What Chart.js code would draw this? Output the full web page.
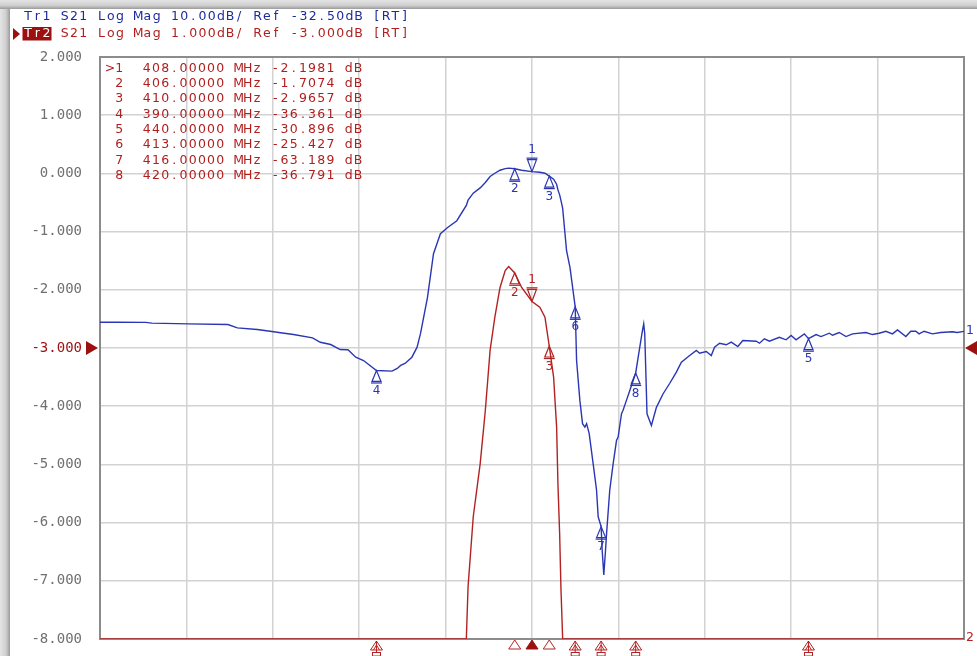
<!DOCTYPE html>
<html><head><meta charset="utf-8">
<style>html,body{margin:0;padding:0;background:#fff;overflow:hidden}</style>
<script src="https://cdn.jsdelivr.net/npm/chart.js@4.4.0/dist/chart.umd.min.js"></script>
</head><body>
<canvas id="c" width="977" height="656" style="width:977px;height:656px;display:block"></canvas>
<script>
// Stimulus axis (MHz) and measured S21 (dB) — same data shown by Tr1 and Tr2
const freqMHz = [358.0,360.0,363.3,364.0,368.2,372.8,373.9,376.2,377.7,378.9,380.4,382.6,383.5,384.7,385.8,386.7,387.6,388.5,390.0,391.8,392.4,392.8,393.3,394.1,394.7,395.1,395.9,396.6,397.4,398.2,399.3,400.4,400.6,401.2,402.0,402.6,403.15,403.7,404.3,404.9,405.3,406.0,406.8,408.0,408.9,409.5,410.0,410.5,410.85,411.0,411.2,411.35,411.55,412.0,412.4,412.8,413.0,413.16,413.54,413.85,414.12,414.32,414.62,415.08,415.47,415.66,416.0,416.12,416.31,416.51,416.63,417.0,417.39,417.78,417.97,418.36,418.54,418.93,419.32,420.0,420.47,420.78,420.93,421.05,421.16,421.31,421.82,422.4,423.16,423.93,424.71,425.29,426.25,427.02,427.4,428.17,428.75,429.13,429.71,430.48,431.06,431.82,432.4,433.95,434.33,434.9,435.48,436.63,437.41,437.99,438.56,439.52,440.0,440.88,441.45,442.41,442.79,443.56,444.34,445.1,446.65,447.41,448.18,448.96,449.72,450.3,451.27,451.84,452.42,452.8,453.38,454.34,455.31,456.65,457.22,458.0];
const s21dB = [-28.08,-28.08,-28.10,-28.22,-28.35,-28.47,-29.04,-29.33,-29.62,-29.89,-30.18,-30.75,-31.51,-31.90,-32.76,-32.81,-34.08,-34.65,-36.36,-36.48,-36.02,-35.50,-35.16,-34.08,-32.36,-30.00,-23.84,-16.29,-12.86,-11.83,-10.63,-8.00,-7.10,-5.90,-4.99,-4.07,-3.04,-2.47,-1.96,-1.67,-1.60,-1.71,-1.96,-2.20,-2.30,-2.47,-2.97,-3.50,-4.36,-5.33,-6.19,-7.13,-8.50,-15.78,-18.69,-23.20,-25.43,-34.65,-41.50,-45.50,-46.10,-45.50,-47.20,-52.40,-56.90,-61.50,-63.19,-67.20,-71.50,-67.20,-64.40,-56.90,-52.40,-48.40,-47.80,-43.80,-43.20,-41.50,-39.80,-36.79,-32.40,-29.50,-28.35,-30.07,-35.80,-43.80,-45.80,-42.70,-40.40,-38.60,-36.65,-34.94,-33.79,-32.93,-33.39,-33.10,-33.79,-32.36,-31.68,-31.95,-31.50,-32.24,-31.21,-31.33,-31.68,-30.92,-31.33,-30.65,-31.09,-30.36,-31.09,-30.07,-30.90,-30.19,-30.53,-29.96,-30.31,-29.84,-30.53,-30.07,-29.84,-30.19,-29.96,-29.62,-30.07,-29.38,-30.53,-29.62,-29.62,-30.07,-29.62,-30.07,-29.84,-29.72,-29.84,-29.65];

// Markers
const markerIds = ['1','2','3','4','5','6','7','8'];
const markerFreqs = [408,406,410,390,440,413,416,420];
const markerValues = [-2.1981,-1.7074,-2.9657,-36.361,-30.896,-25.427,-63.189,-36.791];

// Graticule / axis
const yTickValues = [2,1,0,-1,-2,-3,-4,-5,-6,-7,-8];
const xRange = [358, 458];
const refPosition = -3;           // reference line position (graticule units)
const tr1Ref = -32.5, tr1PerDiv = 10;
const tr2Ref = -3.0,  tr2PerDiv = 1;

const headerTr1 = 'Tr1 S21 Log Mag 10.00dB/ Ref -32.50dB [RT]';
const headerTr2Label = 'Tr2';
const headerTr2 = 'S21 Log Mag 1.000dB/ Ref -3.000dB [RT]';

const BLUE = '#2a36b4', RED = '#b32222', DARKRED = '#9c1010', TXTBLUE = '#1f2a9e', TXTRED = '#b01e1e';
const FONT = '12.5px "DejaVu Sans"';
const PITCH = 9.18;

const yMin = yTickValues[yTickValues.length-1], yMax = yTickValues[0];
const tr1Min = tr1Ref + (yMin - refPosition) * tr1PerDiv;
const tr1Max = tr1Ref + (yMax - refPosition) * tr1PerDiv;
const tr2Min = tr2Ref + (yMin - refPosition) * tr2PerDiv;
const tr2Max = tr2Ref + (yMax - refPosition) * tr2PerDiv;

function mono(ctx, s, x, y, pitch) {
  ctx.textAlign = 'center';
  for (let i = 0; i < s.length; i++) ctx.fillText(s[i], x + i * pitch + pitch / 2, y);
}

function markerBelow(ctx, x, y, color, label) { // triangle under the point, apex at point
  ctx.strokeStyle = color; ctx.fillStyle = color; ctx.lineWidth = 1.2;
  ctx.beginPath(); ctx.moveTo(x, y); ctx.lineTo(x - 4.5, y + 11); ctx.lineTo(x + 4.5, y + 11); ctx.closePath(); ctx.stroke();
  ctx.beginPath(); ctx.moveTo(x - 5.5, y + 12.5); ctx.lineTo(x + 5.5, y + 12.5); ctx.stroke();
  ctx.textAlign = 'center'; ctx.textBaseline = 'middle'; ctx.fillText(label, x, y + 20.5);
}
function markerAbove(ctx, x, y, color, label) {
  ctx.strokeStyle = color; ctx.fillStyle = color; ctx.lineWidth = 1.2;
  ctx.beginPath(); ctx.moveTo(x, y); ctx.lineTo(x - 4.5, y - 12); ctx.lineTo(x + 4.5, y - 12); ctx.closePath(); ctx.stroke();
  ctx.beginPath(); ctx.moveTo(x - 5.5, y - 13.5); ctx.lineTo(x + 5.5, y - 13.5); ctx.stroke();
  ctx.textAlign = 'center'; ctx.textBaseline = 'middle'; ctx.fillText(label, x, y - 21.5);
}
function offScaleArrow(ctx, x, y, color) {
  ctx.strokeStyle = color; ctx.lineWidth = 1;
  ctx.beginPath(); ctx.moveTo(x - 6, y + 11); ctx.lineTo(x, y + 2); ctx.lineTo(x + 6, y + 11); ctx.closePath(); ctx.stroke();
  ctx.beginPath(); ctx.moveTo(x - 3, y + 11); ctx.lineTo(x, y + 6); ctx.lineTo(x + 3, y + 11); ctx.stroke();
  ctx.beginPath(); ctx.moveTo(x, y + 2); ctx.lineTo(x, y + 14); ctx.stroke();
  ctx.strokeRect(x - 4, y + 13.5, 8, 3.5);
}
function bottomTri(ctx, x, y, color, filled) {
  ctx.strokeStyle = color; ctx.fillStyle = color; ctx.lineWidth = 1;
  ctx.beginPath(); ctx.moveTo(x, y + 1); ctx.lineTo(x - 6, y + 10); ctx.lineTo(x + 6, y + 10); ctx.closePath();
  if (filled) ctx.fill(); ctx.stroke();
}

const vnaPlugin = {
  id: 'vna',
  beforeDraw(chart) {
    const ctx = chart.ctx; const W = chart.width, H = chart.height;
    ctx.save();
    ctx.fillStyle = '#fff'; ctx.fillRect(0, 0, W, H);
    let g = ctx.createLinearGradient(0, 0, 0, 9);
    g.addColorStop(0, '#e4e4e4'); g.addColorStop(0.6, '#cfcfcf'); g.addColorStop(1, '#9a9a9a');
    ctx.fillStyle = g; ctx.fillRect(0, 0, W, 9);
    g = ctx.createLinearGradient(0, 0, 10, 0);
    g.addColorStop(0, '#e4e4e4'); g.addColorStop(0.6, '#cfcfcf'); g.addColorStop(1, '#9a9a9a');
    ctx.fillStyle = g; ctx.fillRect(0, 9, 10, H - 9);
    ctx.restore();
  },
  beforeDatasetsDraw(chart) {
    const ctx = chart.ctx, a = chart.chartArea;
    ctx.save();
    ctx.strokeStyle = '#8c8c8c'; ctx.lineWidth = 2;
    ctx.strokeRect(a.left, a.top, a.right - a.left, a.bottom - a.top);
    ctx.restore();
  },
  afterDatasetsDraw(chart) {
    const ctx = chart.ctx, a = chart.chartArea;
    const xs = chart.scales.x, ys = chart.scales.y, y2 = chart.scales.y2;
    ctx.save();
    ctx.font = FONT;
    // header
    ctx.textBaseline = 'middle';
    ctx.fillStyle = TXTBLUE; mono(ctx, headerTr1, 23.5, 16.5, PITCH);
    ctx.fillStyle = DARKRED;
    ctx.beginPath(); ctx.moveTo(13, 28); ctx.lineTo(20, 34); ctx.lineTo(13, 40); ctx.closePath(); ctx.fill();
    ctx.fillRect(22.5, 27, 29, 13.5);
    ctx.fillStyle = '#fff'; mono(ctx, headerTr2Label, 23.5, 33.8, PITCH);
    ctx.fillStyle = TXTRED; mono(ctx, headerTr2, 23.5 + 4 * PITCH, 33.8, PITCH);
    // marker table
    ctx.fillStyle = TXTRED;
    for (let i = 0; i < markerIds.length; i++) {
      const row = (i === 0 ? '>' : ' ') + markerIds[i] + '  ' + markerFreqs[i].toFixed(5) + ' MHz ' +
        markerValues[i].toPrecision(5) + ' dB';
      mono(ctx, row, 105.5, 68.5 + i * 15.3, PITCH);
    }
    // reference level triangles
    const yr = ys.getPixelForValue(refPosition);
    ctx.fillStyle = DARKRED;
    ctx.beginPath(); ctx.moveTo(86, yr - 7); ctx.lineTo(98, yr); ctx.lineTo(86, yr + 7); ctx.closePath(); ctx.fill();
    ctx.beginPath(); ctx.moveTo(977, yr - 7); ctx.lineTo(965, yr); ctx.lineTo(977, yr + 7); ctx.closePath(); ctx.fill();
    // trace end labels
    ctx.textBaseline = 'middle'; ctx.textAlign = 'left';
    ctx.fillStyle = BLUE; ctx.fillText('1', a.right + 2, y2.getPixelForValue(s21dB[s21dB.length - 1]) - 1);
    ctx.fillStyle = RED; ctx.fillText('2', a.right + 2, a.bottom - 1);
    // markers
    ctx.font = '12px "DejaVu Sans"';
    for (let i = 0; i < markerIds.length; i++) {
      const px = xs.getPixelForValue(markerFreqs[i]);
      const v = markerValues[i];
      // Tr1 (blue)
      const pyb = y2.getPixelForValue(v);
      if (i === 0) markerAbove(ctx, px, pyb, BLUE, markerIds[i]); else markerBelow(ctx, px, pyb, BLUE, markerIds[i]);
      // Tr2 (red)
      if (v >= tr2Min && v <= tr2Max) {
        const pyr = ys.getPixelForValue(v);
        if (i === 0) markerAbove(ctx, px, pyr, RED, markerIds[i]); else markerBelow(ctx, px, pyr, RED, markerIds[i]);
        bottomTri(ctx, px, a.bottom, i === 0 ? DARKRED : RED, i === 0);
      } else {
        offScaleArrow(ctx, px, a.bottom, RED);
      }
    }
    ctx.restore();
  }
};

new Chart(document.getElementById('c'), {
  type: 'line',
  data: {
    datasets: [
      {
        label: 'Tr2 S21',
        data: freqMHz.map((f, i) => ({ x: f, y: Math.max(tr2Min, Math.min(tr2Max, s21dB[i])) })),
        yAxisID: 'y', borderColor: RED, borderWidth: 1.4, pointRadius: 0, tension: 0
      },
      {
        label: 'Tr1 S21',
        data: freqMHz.map((f, i) => ({ x: f, y: s21dB[i] })),
        yAxisID: 'y2', borderColor: BLUE, borderWidth: 1.4, pointRadius: 0, tension: 0
      }
    ]
  },
  options: {
    responsive: false, animation: false, devicePixelRatio: 1,
    layout: { padding: { left: 0, top: 57, right: 13, bottom: 17 } },
    plugins: { legend: { display: false }, tooltip: { enabled: false } },
    scales: {
      x: {
        type: 'linear', min: xRange[0], max: xRange[1],
        ticks: { display: false, stepSize: 10 },
        grid: { color: '#d2d2d2', lineWidth: 1.5, drawTicks: false },
        border: { display: false },
        afterFit(s) { s.height = 0; s.paddingLeft = 0; s.paddingRight = 0; }
      },
      y: {
        type: 'linear', min: yMin, max: yMax,
        afterBuildTicks(s) { s.ticks = yTickValues.map(v => ({ value: v })); },
        ticks: {
          padding: 18,
          font: { family: 'DejaVu Sans Mono', size: 14 },
          color: c => (c.tick && c.tick.value === refPosition) ? DARKRED : '#707070',
          callback: v => Number(v).toFixed(3)
        },
        grid: { color: '#d2d2d2', lineWidth: 1.5, drawTicks: false },
        border: { display: false },
        afterFit(s) { s.width = 100; s.paddingTop = 0; s.paddingBottom = 0; }
      },
      y2: { type: 'linear', display: false, min: tr1Min, max: tr1Max }
    }
  },
  plugins: [vnaPlugin]
});
</script>
</body></html>
